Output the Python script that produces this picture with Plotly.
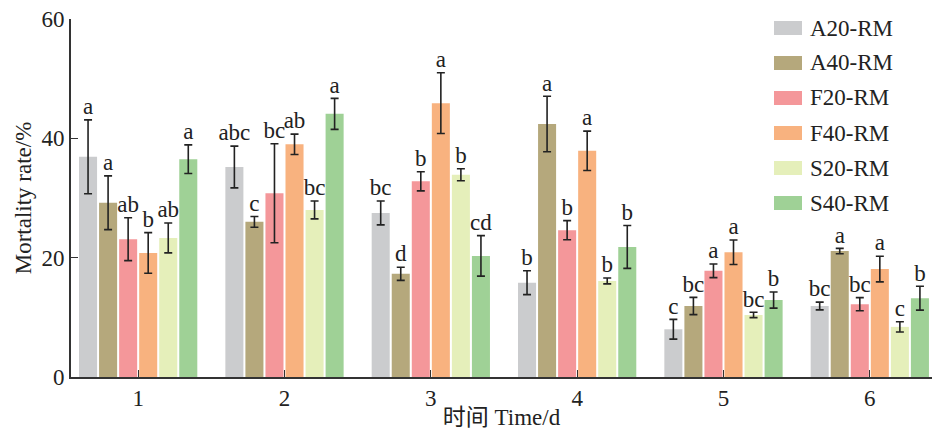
import plotly.graph_objects as go

days = [1, 2, 3, 4, 5, 6]
series_names = ["A20-RM", "A40-RM", "F20-RM", "F40-RM", "S20-RM", "S40-RM"]

a20 = [36.9, 35.2, 27.5, 15.8, 8.0, 11.9]
a40 = [29.2, 26.0, 17.3, 42.4, 11.9, 21.1]
f20 = [23.1, 30.8, 32.8, 24.6, 17.8, 12.2]
f40 = [20.8, 39.0, 45.9, 37.9, 20.9, 18.1]
s20 = [23.3, 28.0, 33.9, 16.1, 10.4, 8.4]
s40 = [36.5, 44.1, 20.3, 21.8, 12.9, 13.2]

a20_err = [6.2, 3.5, 2.0, 2.0, 1.65, 0.65]
a40_err = [4.5, 0.9, 1.1, 4.65, 1.45, 0.45]
f20_err = [3.6, 8.3, 1.6, 1.6, 1.15, 1.1]
f40_err = [3.4, 1.7, 5.1, 3.3, 2.05, 2.15]
s20_err = [2.5, 1.5, 1.0, 0.5, 0.45, 0.85]
s40_err = [2.4, 2.6, 3.4, 3.6, 1.35, 2.0]

a20_sig = ["a", "abc", "bc", "b", "c", "bc"]
a40_sig = ["a", "c", "d", "a", "bc", "a"]
f20_sig = ["ab", "bc", "b", "b", "a", "bc"]
f40_sig = ["b", "ab", "a", "a", "a", "a"]
s20_sig = ["ab", "bc", "b", "b", "bc", "c"]
s40_sig = ["a", "a", "cd", "b", "b", "b"]

y_ticks = [0, 20, 40, 60]

values = [a20, a40, f20, f40, s20, s40]
errors = [a20_err, a40_err, f20_err, f40_err, s20_err, s40_err]
sigs = [a20_sig, a40_sig, f20_sig, f40_sig, s20_sig, s40_sig]
colors = ["#CBCCCE", "#B5A87C", "#F4979A", "#F8B27F", "#E5EFBA", "#9FD196"]

FONT = "Liberation Serif, Times New Roman, Noto Sans CJK SC, serif"
FS = 23
BARGAP = 0.178
n = len(series_names)
slot = (1 - BARGAP) / n

fig = go.Figure()
for i, name in enumerate(series_names):
    fig.add_trace(go.Bar(
        x=days, y=values[i], name=name,
        marker=dict(color=colors[i], line=dict(width=0)),
        error_y=dict(type="data", array=errors[i], visible=True,
                     color="#222222", thickness=1.6, width=4),
        showlegend=False,
    ))
for i in range(n):
    off = (i - (n - 1) / 2) * slot
    fig.add_trace(go.Scatter(
        x=[d + off for d in days],
        y=[v + e for v, e in zip(values[i], errors[i])],
        text=sigs[i], mode="text", textposition="top center",
        textfont=dict(family=FONT, size=FS, color="#222222"),
        showlegend=False, hoverinfo="skip", cliponaxis=False,
    ))

# manual legend
shapes = []
annotations = []
plot_h = 358.0
for i, name in enumerate(series_names):
    py = 28 + 35 * i
    yc = (377 - py) / plot_h
    shapes.append(dict(type="rect", xref="paper", yref="paper",
                       x0=(774 - 71) / 861, x1=(802 - 71) / 861,
                       y0=yc - 7 / plot_h, y1=yc + 7 / plot_h,
                       fillcolor=colors[i], line=dict(width=0)))
    annotations.append(dict(xref="paper", yref="paper", x=(808 - 71) / 861, y=yc,
                            text=name, showarrow=False, xanchor="left", yanchor="middle",
                            font=dict(family=FONT, size=FS, color="#222222")))

fig.update_layout(
    width=932, height=430,
    margin=dict(l=71, r=0, t=19, b=53, autoexpand=False),
    barmode="group", bargap=BARGAP, bargroupgap=0.1,
    plot_bgcolor="white", paper_bgcolor="white",
    font=dict(family=FONT, size=FS, color="#222222"),
    shapes=shapes, annotations=annotations,
    xaxis=dict(range=[0.541, 6.425], tickvals=days, ticktext=[str(d) for d in days],
               ticks="inside", ticklen=7, tickwidth=1.2, tickcolor="#333333",
               showline=True, linecolor="#333333", linewidth=1.6,
               showgrid=False, zeroline=False, automargin=False,
               title=dict(text="时间 Time/d", font=dict(family=FONT, size=FS), standoff=2),
               tickfont=dict(family=FONT, size=FS)),
    yaxis=dict(range=[0, 60], tickvals=y_ticks, ticks="inside", ticklen=7,
               tickwidth=1.2, tickcolor="#333333",
               showline=True, linecolor="#333333", linewidth=1.6,
               showgrid=False, zeroline=False, automargin=False,
               title=dict(text="Mortality rate/%", font=dict(family=FONT, size=FS), standoff=4),
               tickfont=dict(family=FONT, size=FS)),
)

fig.write_html("out.html", config={"displayModeBar": False},
               post_script="document.body.style.margin='0';")
